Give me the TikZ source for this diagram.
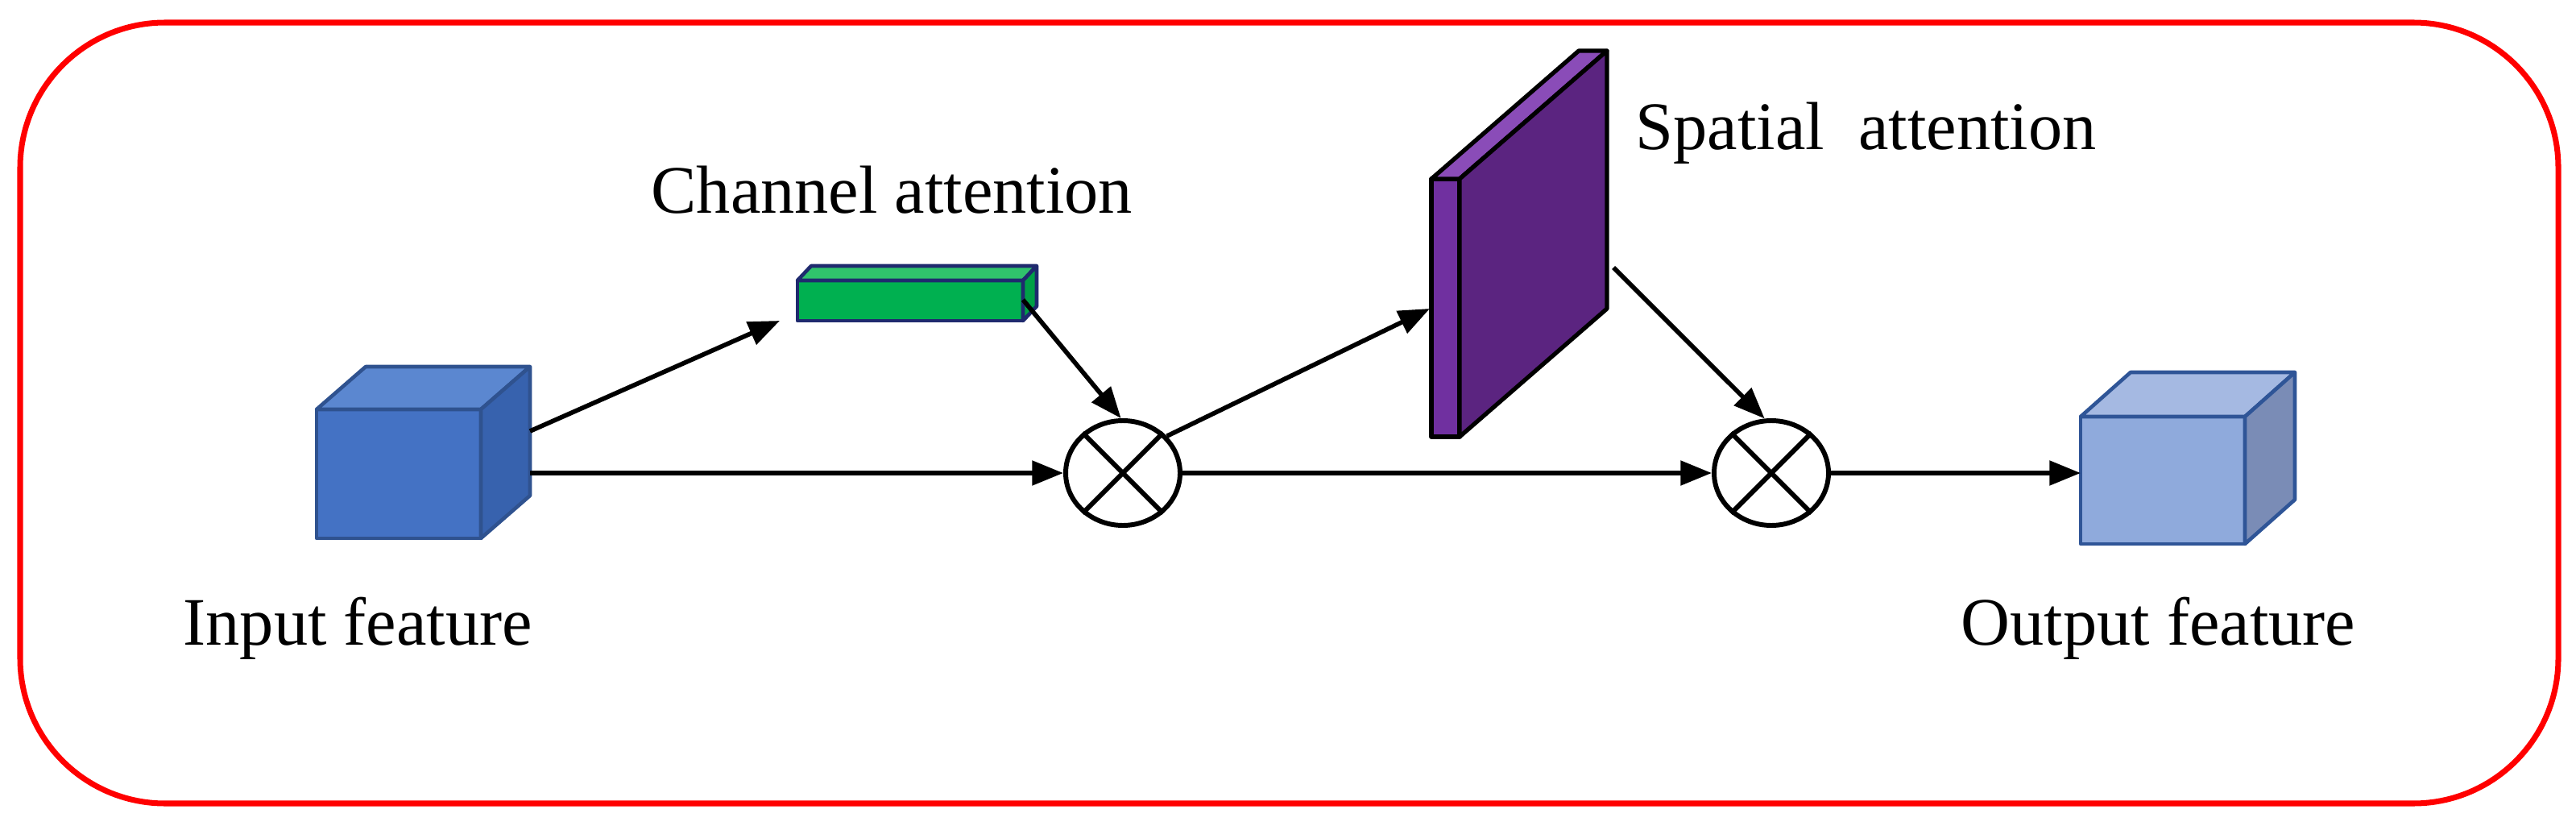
\documentclass[tikz,border=0pt]{standalone}
\usepackage{fontspec}
\setmainfont{Liberation Serif}
\usetikzlibrary{arrows.meta,shapes.geometric,calc}
\definecolor{inFront}{HTML}{4472C4}
\definecolor{inTop}{HTML}{5B87D0}
\definecolor{inSide}{HTML}{3762AE}
\definecolor{inEdge}{HTML}{2F528F}
\definecolor{outFront}{HTML}{8FAADC}
\definecolor{outTop}{HTML}{A5B9E2}
\definecolor{outSide}{HTML}{7A8CB6}
\definecolor{outEdge}{HTML}{2F5597}
\definecolor{gFront}{HTML}{00B050}
\definecolor{gTop}{HTML}{30C36C}
\definecolor{gSide}{HTML}{00A046}
\definecolor{gEdge}{HTML}{1F2A6E}
\definecolor{pFront}{HTML}{7030A0}
\definecolor{pTop}{HTML}{8A4CB8}
\definecolor{pSide}{HTML}{5B2480}
\tikzset{
  lbl/.style={font=\fontsize{24}{28}\selectfont, inner sep=0pt, anchor=base west},
  face/.style={line width=1.3pt, line join=round},
  frontbox/.style={face, rectangle, inner sep=0pt, outer sep=0pt},
  mult/.style={ellipse, draw, line width=1.7pt, minimum width=1.42cm, minimum height=1.30cm, inner sep=0pt},
  conn/.style={line width=1.6pt, -{Triangle[length=11pt,width=8.5pt]}},
}
\begin{document}
\begin{tikzpicture}[x=1cm,y=1cm]
\useasboundingbox (0,0) rectangle (31.98,-10.25);
% frame
\draw[red, line width=2pt, rounded corners=1.8cm] (0.25,-0.28) rectangle (31.76,-9.97);

% input cube
\node[frontbox, draw=inEdge, fill=inFront, minimum width=2.04cm, minimum height=1.60cm] (in) at (4.95,-5.88) {};
\draw[face, draw=inEdge, fill=inTop] (in.north west) -- ++(0.61,0.53) -- ++(2.04,0) -- (in.north east) -- cycle;
\draw[face, draw=inEdge, fill=inSide] (in.north east) -- ++(0.61,0.53) -- ++(0,-1.60) -- (in.south east) -- cycle;
\coordinate (inA) at (6.58,-5.35);
\coordinate (inB) at (6.58,-5.87);
\node[lbl] (inlbl) at (2.27,-8.00) {Input feature};

% output cube
\node[frontbox, draw=outEdge, fill=outFront, minimum width=2.04cm, minimum height=1.58cm] (out) at (26.85,-5.96) {};
\draw[face, draw=outEdge, fill=outTop] (out.north west) -- ++(0.62,0.55) -- ++(2.04,0) -- (out.north east) -- cycle;
\draw[face, draw=outEdge, fill=outSide] (out.north east) -- ++(0.62,0.55) -- ++(0,-1.58) -- (out.south east) -- cycle;
\coordinate (outIn) at (25.83,-5.87);
\node[lbl] (outlbl) at (24.34,-8.00) {Output feature};

% channel attention bar
\node[frontbox, draw=gEdge, fill=gFront, minimum width=2.80cm, minimum height=0.50cm] (ca) at (11.30,-3.73) {};
\draw[face, draw=gEdge, fill=gTop] (ca.north west) -- ++(0.17,0.18) -- ++(2.80,0) -- (ca.north east) -- cycle;
\draw[face, draw=gEdge, fill=gSide] (ca.north east) -- ++(0.17,0.18) -- ++(0,-0.50) -- (ca.south east) -- cycle;
\coordinate (caIn) at (9.68,-3.98);
\coordinate (caOut) at (12.70,-3.72);
\node[lbl] (calbl) at (8.08,-2.64) {Channel attention};

% spatial attention panel
\node[frontbox, draw=black, fill=pFront, line width=1.5pt, minimum width=0.35cm, minimum height=3.20cm] (sa) at (17.945,-3.82) {};
\draw[face, line width=1.5pt, draw=black, fill=pTop] (sa.north west) -- ++(1.83,1.59) -- ++(0.35,0) -- (sa.north east) -- cycle;
\draw[face, line width=1.5pt, draw=black, fill=pSide] (sa.north east) -- ++(1.83,1.59) -- ++(0,-3.20) -- (sa.south east) -- cycle;
\coordinate (saIn) at (17.75,-3.83);
\coordinate (saOut) at (20.03,-3.32);
\node[lbl] (salbl) at (20.30,-1.85) {Spatial\ \ attention};

% multiplication nodes
\node[mult] (m1) at (13.94,-5.87) {};
\draw[line width=1.7pt] (m1.45) -- (m1.225) (m1.135) -- (m1.315);
\node[mult] (m2) at (21.99,-5.87) {};
\draw[line width=1.7pt] (m2.45) -- (m2.225) (m2.135) -- (m2.315);

% connectors
\draw[conn] (inA) -- (caIn);
\draw[conn] (inB) -- (m1.west);
\draw[conn] (caOut) -- (m1.92);
\draw[conn] (m1.40) -- (saIn);
\draw[conn] (m1.east) -- (m2.west);
\draw[conn] (saOut) -- (m2.97);
\draw[conn] (m2.east) -- (outIn);
\end{tikzpicture}
\end{document}
